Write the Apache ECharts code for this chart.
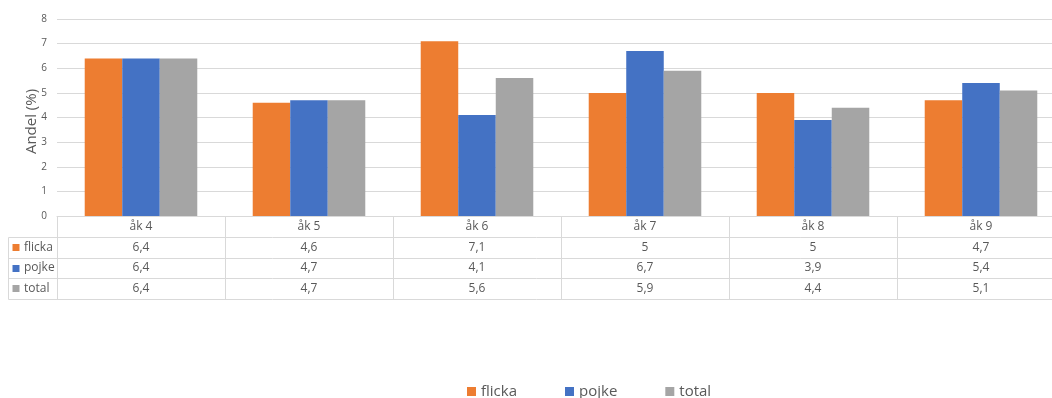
<!DOCTYPE html>
<html>
<head>
<meta charset="utf-8">
<script src="https://cdn.jsdelivr.net/npm/echarts@6/dist/echarts.min.js"></script>
<style>
html,body{margin:0;padding:0;background:#fff;overflow:hidden;width:1052px;height:398px;}
#c{width:1066px;height:398px;}
</style>
</head>
<body>
<div id="c"></div>
<script>
const categories = ['åk 4', 'åk 5', 'åk 6', 'åk 7', 'åk 8', 'åk 9'];
const seriesNames = ['flicka', 'pojke', 'total'];
const flicka = [6.4, 4.6, 7.1, 5, 5, 4.7];
const pojke = [6.4, 4.7, 4.1, 6.7, 3.9, 5.4];
const total = [6.4, 4.7, 5.6, 5.9, 4.4, 5.1];
const yMin = 0, yMax = 8, yStep = 1;
const colors = ['#ED7D31', '#4472C4', '#A5A5A5'];
const FONT = '"Open Sans", Lato, sans-serif';
const LINE = '#D9D9D9';
const TXT = '#595959';

const seriesData = [flicka, pojke, total];
const fmt = v => String(v).replace('.', ',');

const chart = echarts.init(document.getElementById('c'), null, {renderer: 'canvas'});
const GRID = {left: 57, top: 19, right: 1, height: 197};

const option = {
  animation: false,
  color: colors,
  textStyle: {fontFamily: FONT},
  grid: GRID,
  legend: {
    data: seriesNames,
    left: 467, top: 384, padding: 0,
    itemWidth: 9, itemHeight: 9, itemGap: 48,
    icon: 'rect',
    textStyle: {fontSize: 15, color: TXT, fontFamily: FONT},
    itemStyle: {borderWidth: 0}
  },
  xAxis: {
    type: 'category',
    data: categories,
    axisLine: {show: true, lineStyle: {color: LINE, width: 1}},
    axisTick: {show: false},
    axisLabel: {show: false},
    splitLine: {show: false}
  },
  yAxis: {
    type: 'value',
    min: yMin, max: yMax, interval: yStep,
    name: 'Andel (%)',
    nameLocation: 'middle',
    nameGap: 18,
    nameMoveOverlap: false,
    nameTextStyle: {fontSize: 15, color: TXT, fontFamily: FONT, padding: [0, 8, 0, 0]},
    axisLine: {show: false},
    axisTick: {show: false},
    axisLabel: {fontSize: 10, color: TXT, margin: 10, fontFamily: FONT},
    splitLine: {lineStyle: {color: LINE, width: 1}}
  },
  series: seriesNames.map((n, i) => ({
    name: n,
    type: 'bar',
    data: seriesData[i],
    barGap: '0%',
    barCategoryGap: '33%',
    itemStyle: {color: colors[i]}
  }))
};
chart.setOption(option);

// Build data table beneath the axis using the library's scales
const p0 = chart.convertToPixel({gridIndex: 0}, [0, yMin]);
const baseY = Math.round(p0[1]) + 0.5;
const rowH = 20.6;
const catCenters = categories.map(c => chart.convertToPixel({xAxisIndex: 0}, c));
const catW = catCenters.length > 1 ? catCenters[1] - catCenters[0] : 1000;
const leftEdge = catCenters[0] - catW / 2;
const rightEdge = catCenters[catCenters.length - 1] + catW / 2;
const tableLeft = 8.5;
const g = [];
const line = (x1, y1, x2, y2) => g.push({type: 'line', shape: {x1, y1, x2, y2}, style: {stroke: LINE, lineWidth: 1}, silent: true});
const bottom = Math.round(baseY + rowH * 4) + 0.5;
for (let r = 1; r <= 4; r++) {
  const y = Math.round(baseY + rowH * r) + 0.5;
  line(tableLeft, y, rightEdge, y);
}
line(tableLeft, Math.round(baseY + rowH) + 0.5, tableLeft, bottom);
for (let k = 0; k <= categories.length; k++) {
  const x = Math.round(leftEdge + catW * k) + 0.5;
  line(x, baseY, x, bottom);
}
categories.forEach((c, k) => {
  g.push({type: 'text', x: catCenters[k], y: baseY + rowH / 2, style: {text: c, fill: TXT, font: '12px ' + FONT, textAlign: 'center', textVerticalAlign: 'middle'}, silent: true});
  seriesData.forEach((arr, s) => {
    g.push({type: 'text', x: catCenters[k], y: baseY + rowH * (s + 1.5), style: {text: fmt(arr[k]), fill: TXT, font: '12px ' + FONT, textAlign: 'center', textVerticalAlign: 'middle'}, silent: true});
  });
});
seriesNames.forEach((n, s) => {
  const cy = baseY + rowH * (s + 1.5);
  g.push({type: 'rect', shape: {x: 12.5, y: Math.round(cy - 3.5), width: 7, height: 7}, style: {fill: colors[s]}, silent: true});
  g.push({type: 'text', x: 24, y: cy, style: {text: n, fill: TXT, font: '12px ' + FONT, textAlign: 'left', textVerticalAlign: 'middle'}, silent: true});
});
chart.setOption({graphic: {elements: g}});
</script>
</body>
</html>
